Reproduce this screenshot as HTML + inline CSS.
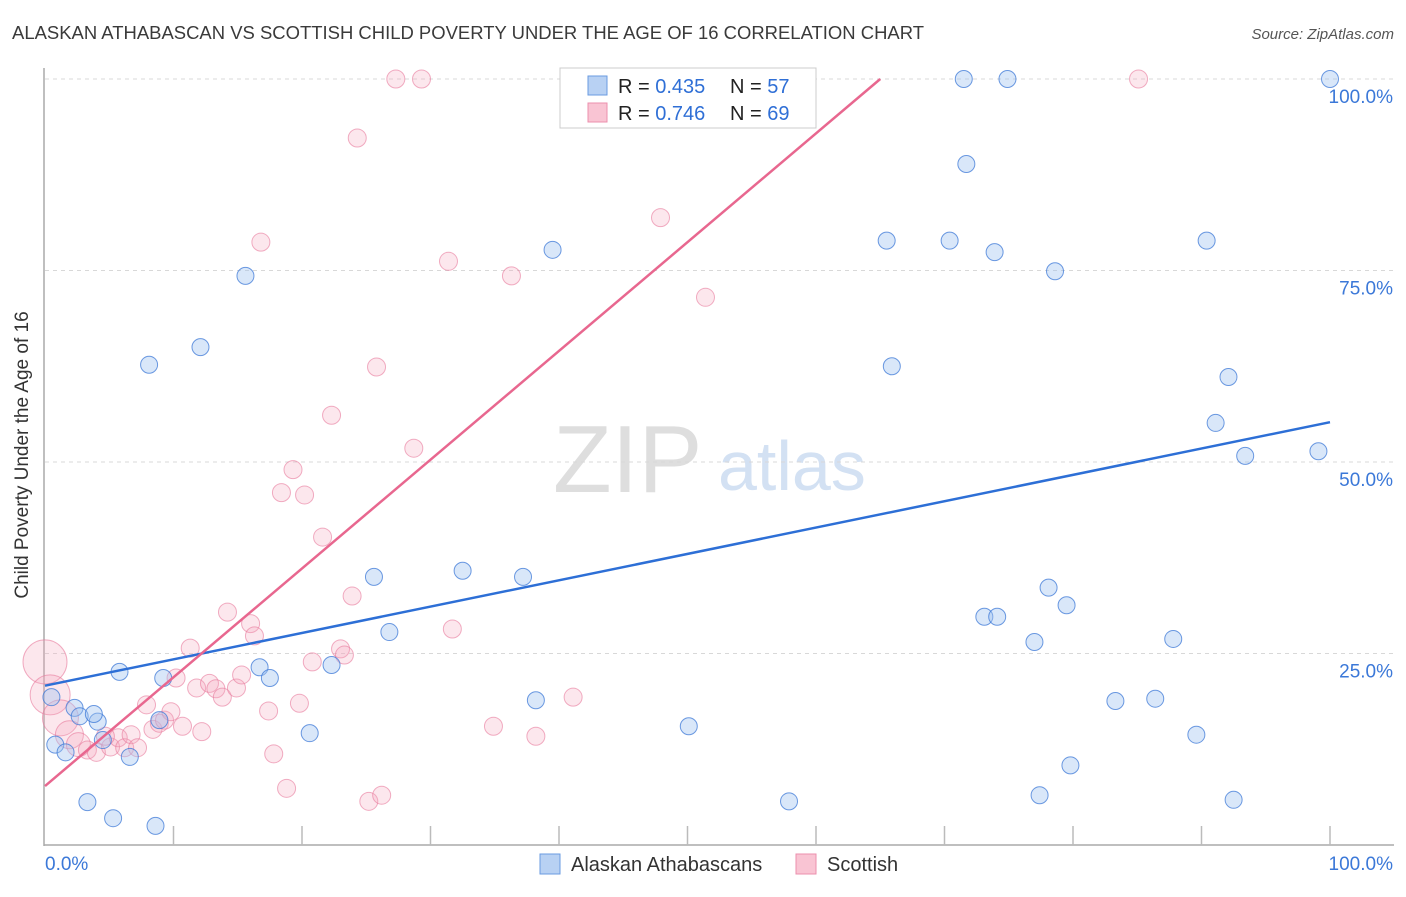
<!DOCTYPE html>
<html><head><meta charset="utf-8"><style>
body{margin:0;background:#fff;font-family:"Liberation Sans",sans-serif;}
svg text{font-family:"Liberation Sans",sans-serif;}
</style></head><body>
<svg id="chart" width="1406" height="892">
<text x="12" y="39" font-size="18" fill="#3a3a3a" textLength="912" lengthAdjust="spacingAndGlyphs">ALASKAN ATHABASCAN VS SCOTTISH CHILD POVERTY UNDER THE AGE OF 16 CORRELATION CHART</text>
<text x="1394" y="39" font-size="15" fill="#555" text-anchor="end" font-style="italic">Source: ZipAtlas.com</text>
<g>
<text x="553" y="492" font-size="96" fill="#dedede" font-family="Liberation Serif, serif">ZIP</text>
<text x="718" y="490" font-size="70" fill="#d3e1f3">atlas</text>
</g>
<g id="grid"></g>
<g id="axes"></g>
<g id="marks"></g>
<text x="28" y="455" font-size="19" fill="#333" text-anchor="middle" transform="rotate(-90 28 455)">Child Poverty Under the Age of 16</text>
<g>
<rect x="560" y="68" width="256" height="60" fill="#fff" stroke="#ccc"/>
<rect x="588" y="76" width="19" height="19" fill="#b8d1f3" stroke="#6a9be0"/>
<rect x="588" y="103" width="19" height="19" fill="#f9c4d3" stroke="#ec8fae"/>
<text x="618" y="93" font-size="20" fill="#222">R = <tspan fill="#2f6fd6">0.435</tspan></text>
<text x="730" y="93" font-size="20" fill="#222">N = <tspan fill="#2f6fd6">57</tspan></text>
<text x="618" y="120" font-size="20" fill="#222">R = <tspan fill="#2f6fd6">0.746</tspan></text>
<text x="730" y="120" font-size="20" fill="#222">N = <tspan fill="#2f6fd6">69</tspan></text>
</g>
<g>
<rect x="540" y="854" width="20" height="20" fill="#b8d1f3" stroke="#6a9be0"/>
<text x="571" y="871" font-size="20" fill="#333">Alaskan Athabascans</text>
<rect x="796" y="854" width="20" height="20" fill="#f9c4d3" stroke="#ec8fae"/>
<text x="827" y="871" font-size="20" fill="#333">Scottish</text>
</g>
</svg>
<script>
const yTicks=[25,50,75,100];
const yTickLabels=["25.0%","50.0%","75.0%","100.0%"];
const xTickLabels=["0.0%","100.0%"];
const blueX=[0.5,0.8,1.6,2.3,2.7,4.1,3.8,4.5,3.3,5.3,5.8,6.6,8.1,8.6,8.9,9.2,12.1,15.6,16.7,17.5,20.6,22.3,25.6,26.8,32.5,37.2,38.2,39.5,50.1,57.9,65.5,65.9,70.4,71.5,71.7,73.1,73.9,74.1,74.9,77.0,77.4,78.1,78.6,79.5,79.8,83.3,86.4,87.8,89.6,90.4,91.1,92.1,92.5,93.4,99.1,100,43.0];
const blueY=[19.3,13.1,12.1,17.9,16.8,16.1,17.1,13.7,5.6,3.5,22.6,11.5,62.7,2.5,16.3,21.8,65.0,74.3,23.2,21.8,14.6,23.5,35.0,27.8,35.8,35.0,18.9,77.7,15.5,5.7,78.9,62.5,78.9,100,88.9,29.8,77.4,29.8,100,26.5,6.5,33.6,74.9,31.3,10.4,18.8,19.1,26.9,14.4,78.9,55.1,61.1,5.9,50.8,51.4,100,100];
const pinkX=[0,0.4,1.2,1.9,2.6,3.3,4.0,5.1,5.7,6.2,4.7,6.7,7.2,7.9,8.4,8.9,9.3,9.8,10.7,12.2,10.2,11.3,11.8,12.8,13.3,13.8,14.9,15.3,14.2,16.0,16.3,16.8,17.4,17.8,18.8,19.8,18.4,19.3,20.2,21.6,20.8,22.3,23.0,23.3,23.9,24.3,25.2,26.2,25.8,27.3,29.3,28.7,31.4,31.7,34.9,36.3,38.2,41.1,47.9,51.4,58.0,85.1,47.2];
const pinkY=[23.9,19.6,16.6,14.4,13.1,12.4,12.1,12.8,14.0,12.7,14.2,14.4,12.7,18.3,15.1,15.9,16.3,17.4,15.5,14.8,21.8,25.7,20.5,21.1,20.4,19.3,20.5,22.2,30.4,28.9,27.3,78.7,17.5,11.9,7.4,18.5,46.0,49.0,45.7,40.2,23.9,56.1,25.6,24.8,32.5,92.3,5.7,6.5,62.4,100,100,51.8,76.2,28.2,15.5,74.3,14.2,19.3,81.9,71.5,100,100,100];
const pinkR=[22,20,18,14,12];
const blueLine=[[0,20.8],[100,55.2]];
const pinkLine=[[0,7.7],[65,100]];
const NS="http://www.w3.org/2000/svg";
const X=v=>45+v*12.85, Y=v=>845-v*7.66;
function mk(t,a,p){const e=document.createElementNS(NS,t);for(const k in a)e.setAttribute(k,a[k]);p.appendChild(e);return e;}
const grid=document.getElementById('grid'),axes=document.getElementById('axes'),marks=document.getElementById('marks');
yTicks.forEach((t,i)=>{
 const l=mk('line',{x1:45,x2:1394,y1:Y(t),y2:Y(t),stroke:'#d8d8d8','stroke-dasharray':'4,4'},grid);
 
 
 const tx=mk('text',{x:1393,y:Y(t)+24,'font-size':19,fill:'#3b78d8','text-anchor':'end'},axes);
 tx.textContent=yTickLabels[i];
 
 
});
const gl=mk('line',{x1:45,x2:1394,y1:79,y2:79,stroke:'#d8d8d8','stroke-dasharray':'4,4'},grid);


const ya=mk('line',{x1:44,x2:44,y1:68,y2:846,stroke:'#aaa','stroke-width':1.5},axes);


const xa=mk('line',{x1:44,x2:1394,y1:845,y2:845,stroke:'#aaa','stroke-width':1.5},axes);


for(let i=1;i<=10;i++){const t=mk('line',{x1:X(i*10),x2:X(i*10),y1:826,y2:845,stroke:'#bbb','stroke-width':1.5},axes);
 
 }
[[0,45,'start'],[100,1393,'end']].forEach((d,i)=>{const t=mk('text',{x:d[1],y:870,'font-size':19,fill:'#3b78d8','text-anchor':d[2]},axes);t.textContent=xTickLabels[i];
 
 });
pinkX.forEach((x,i)=>{const c=mk('circle',{cx:X(x),cy:Y(pinkY[i]),r:pinkR[i]||9,fill:'rgba(246,168,192,0.28)',stroke:'rgba(232,120,155,0.6)','stroke-width':1},marks);
 
 });
blueX.forEach((x,i)=>{const c=mk('circle',{cx:X(x),cy:Y(blueY[i]),r:8.5,fill:'rgba(160,195,240,0.4)',stroke:'rgba(60,120,215,0.75)','stroke-width':1},marks);
 
 });
const bl=mk('line',{x1:X(blueLine[0][0]),y1:Y(blueLine[0][1]),x2:X(blueLine[1][0]),y2:Y(blueLine[1][1]),stroke:'#2d6fd6','stroke-width':2.5},marks);


const pl=mk('line',{x1:X(pinkLine[0][0]),y1:Y(pinkLine[0][1]),x2:X(pinkLine[1][0]),y2:Y(pinkLine[1][1]),stroke:'#e8678f','stroke-width':2.5},marks);


</script>
</body></html>
